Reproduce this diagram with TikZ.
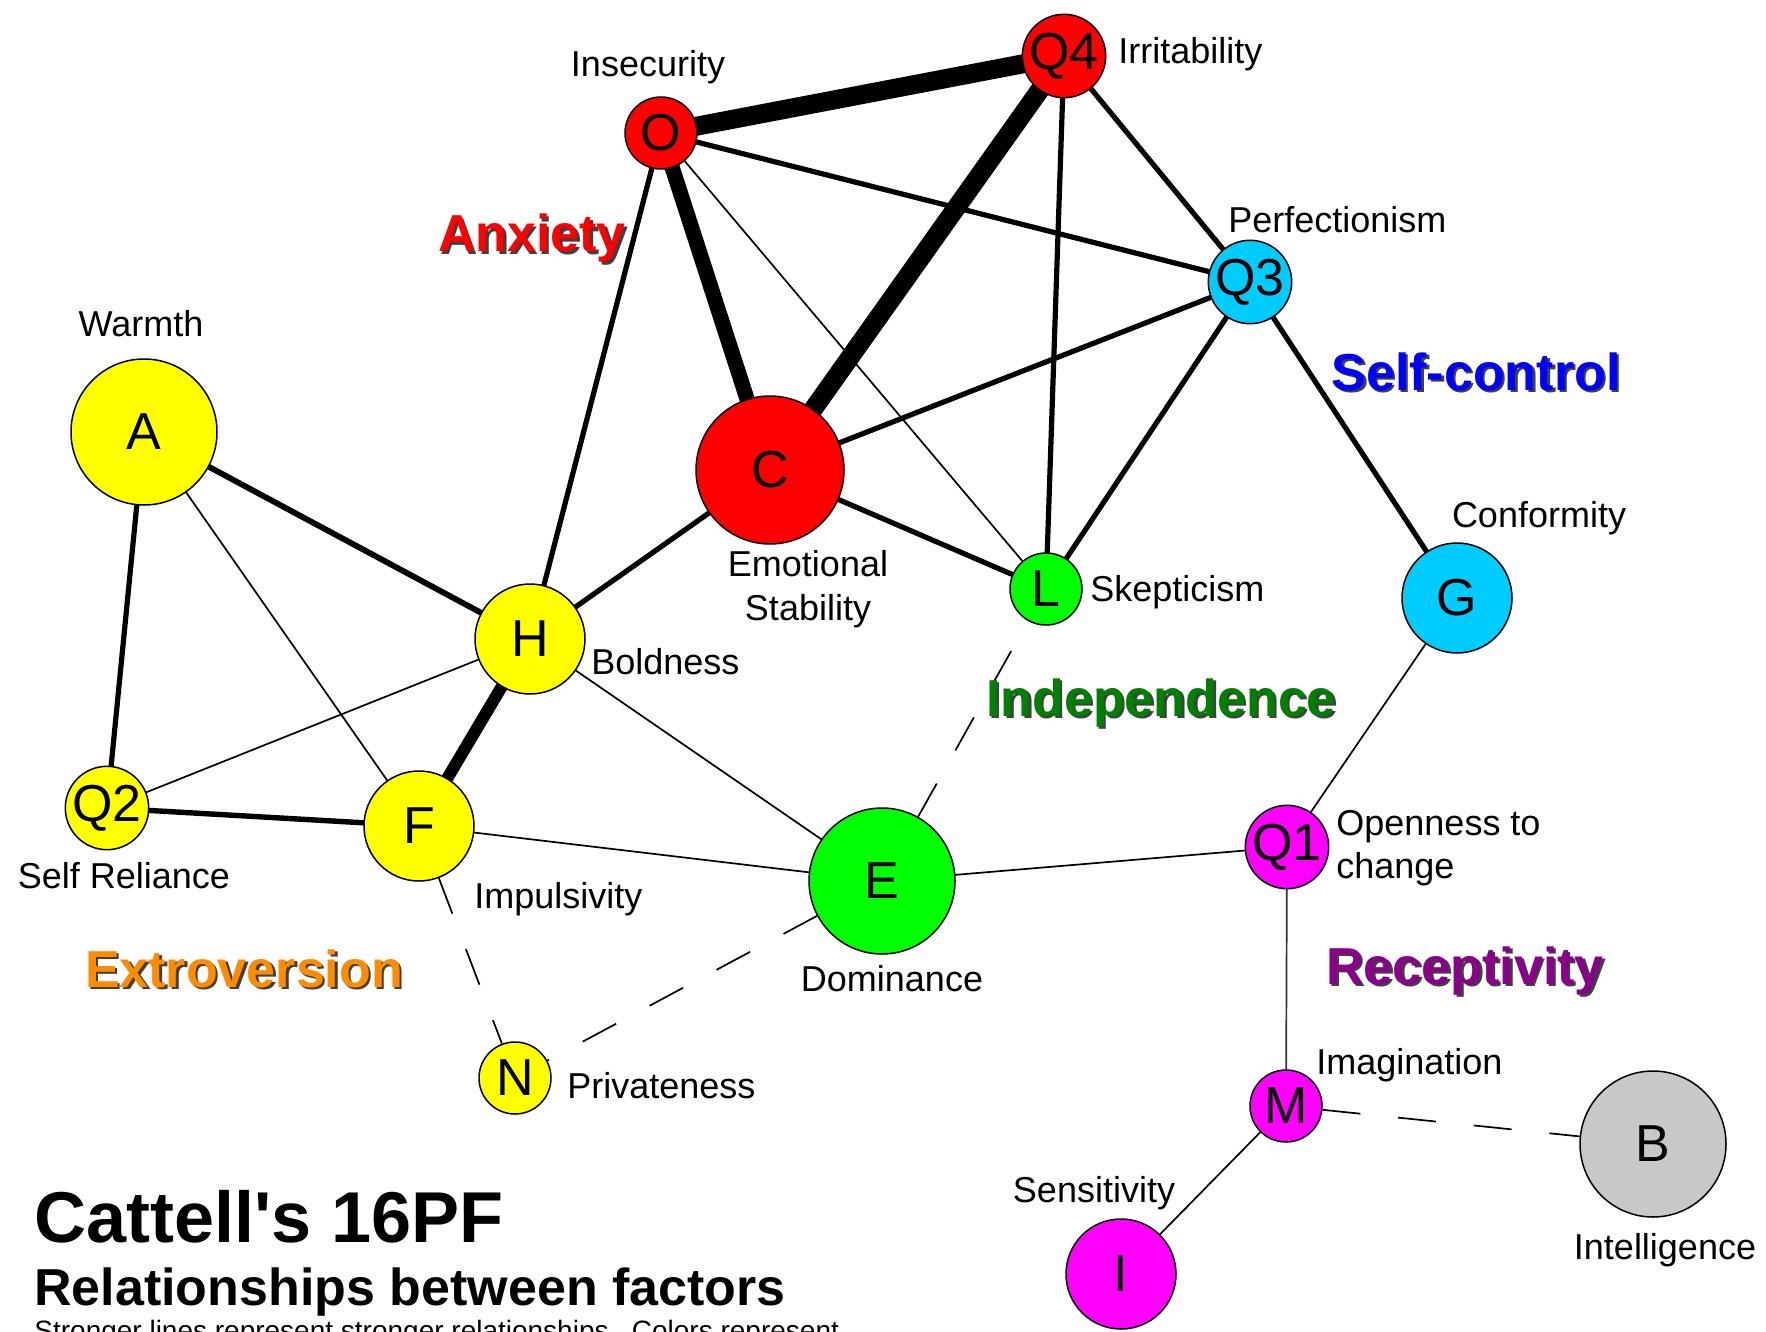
\documentclass[tikz,border=0pt]{standalone}
\usepackage{fontspec}
\setmainfont{Liberation Sans}
\newfontfamily\plainfont{Liberation Sans}
\pgfdeclarelayer{paper}
\pgfdeclarelayer{bg}
\pgfsetlayers{paper,bg,main}
\definecolor{nred}{RGB}{255,0,0}
\definecolor{nyellow}{RGB}{255,255,0}
\definecolor{ncyan}{RGB}{0,204,255}
\definecolor{ngreen}{RGB}{0,255,0}
\definecolor{nmag}{RGB}{255,0,255}
\definecolor{ngray}{RGB}{200,200,200}
\definecolor{gorange}{RGB}{255,140,0}
\definecolor{ggreen}{RGB}{0,128,0}
\definecolor{gpurple}{RGB}{139,0,139}
\definecolor{gblue}{RGB}{0,0,255}
\tikzset{
  fac/.style={circle, draw=black, line width=0.75pt, inner sep=0pt, font=\fontsize{26}{28}\selectfont},
  fsmall/.style={fac, minimum size=36pt},
  fmed/.style={fac, minimum size=55pt},
  flarge/.style={fac, minimum size=73pt},
  lbl/.style={font=\fontsize{18}{20}\selectfont, inner sep=0pt},
  grp/.style={font=\bfseries\fontsize{26}{28}\selectfont, inner sep=0pt, anchor=base},
  shd/.style={grp, text=black!75},
  eA/.style={line width=9.5pt},
  eB/.style={line width=7.6pt},
  eC/.style={line width=6pt},
  emed/.style={line width=2.6pt},
  ethin/.style={line width=0.85pt},
  edash/.style={line width=0.85pt, dash pattern=on 19pt off 19pt},
}
\begin{document}
\begin{tikzpicture}[x=0.5pt,y=-0.5pt]
\useasboundingbox (0,0) rectangle (1766,1332);
\clip (0,0) rectangle (1766,1332);
\begin{pgfonlayer}{paper}
\fill[white] (0,0) rectangle (1766,1332);
\end{pgfonlayer}

% factor nodes
\node[fsmall, fill=nred] (O) at (661,133) {O};
\node[fsmall, fill=nred] (Q4) at (1064,56) {Q4};
\node[fsmall, fill=ncyan] (Q3) at (1250,282) {Q3};
\node[flarge, fill=nyellow] (A) at (144,432) {A};
\node[flarge, minimum size=74pt, fill=nred] (C) at (770,470) {C};
\node[fmed, fill=nyellow] (H) at (530,639) {H};
\node[fsmall, fill=ngreen] (L) at (1046,589) {L};
\node[fmed, fill=ncyan] (G) at (1457,598) {G};
\node[fsmall, fill=nyellow] (Q2) at (107,808) {Q2};
\node[fmed, fill=nyellow] (F) at (419,826) {F};
\node[flarge, fill=ngreen] (E) at (882,881) {E};
\node[fsmall, fill=nmag] (Q1) at (1287,847) {Q1};
\node[fsmall, fill=nyellow] (N) at (515,1078) {N};
\node[fsmall, fill=nmag] (M) at (1286,1106) {M};
\node[flarge, fill=ngray] (B) at (1653,1144) {B};
\node[fmed, fill=nmag] (I) at (1121,1274) {I};

% edges
\begin{pgfonlayer}{bg}
\draw[eA] (O.center) -- (Q4.center);
\draw[eB] (O.center) -- (C.center);
\draw[eA] (Q4.center) -- (C.center);
\draw[eC] (H.center) -- (F.center);
\draw[ethin] (O.center) -- (L.center);
\draw[emed] (O.center) -- (Q3.center);
\draw[emed] (O.center) -- (H.center);
\draw[emed] (Q4.center) -- (L.center);
\draw[emed] (Q4.center) -- (Q3.center);
\draw[emed] (Q3.center) -- (C.center);
\draw[emed] (Q3.center) -- (L.center);
\draw[emed] (Q3.center) -- (G.center);
\draw[emed] (C.center) -- (L.center);
\draw[emed] (C.center) -- (H.center);
\draw[line width=2.9pt] (A.center) -- (H.center);
\draw[ethin] (A.center) -- (F.center);
\draw[emed] (A.center) -- (Q2.center);
\draw[ethin] (H.center) -- (Q2.center);
\draw[ethin] (H.center) -- (E.center);
\draw[line width=2.7pt] (Q2.center) -- (F.center);
\draw[ethin] (F.center) -- (E.center);
\draw[edash] (F) -- (N);
\draw[edash] (E) -- (L);
\draw[ethin] (E.center) -- (Q1.center);
\draw[edash] (E) -- (N);
\draw[ethin] (Q1.center) -- (G.center);
\draw[ethin, draw=black!80] (Q1.center) -- (M.center);
\draw[edash] (M) -- (B);
\draw[ethin] (M.center) -- (I.center);
\end{pgfonlayer}

% factor labels
\node[lbl, anchor=base] (lO) at (648,77) {Insecurity};
\node[lbl, anchor=base west] (lQ4) at (1118,64) {Irritability};
\node[lbl, anchor=base west] (lQ3) at (1228,233) {Perfectionism};
\node[lbl, anchor=base] (lA) at (141,336) {Warmth};
\node[lbl, anchor=base] (lC1) at (808,576) {Emotional};
\node[lbl, anchor=base] (lC2) at (808,620) {Stability};
\node[lbl, anchor=base west] (lL) at (1090,601) {Skepticism};
\node[lbl, anchor=base] (lG) at (1539,527) {Conformity};
\node[lbl, anchor=base west] (lH) at (591,674) {Boldness};
\node[lbl, anchor=base] (lQ2) at (124,888) {Self Reliance};
\node[lbl, anchor=base west] (lF) at (474,908) {Impulsivity};
\node[lbl, anchor=base] (lE) at (892,991) {Dominance};
\node[lbl, anchor=base west] (lQ1a) at (1336,835) {Openness to};
\node[lbl, anchor=base west] (lQ1b) at (1336,878) {change};
\node[lbl, anchor=base west] (lN) at (567,1098) {Privateness};
\node[lbl, anchor=base west] (lM) at (1316,1074) {Imagination};
\node[lbl, anchor=base] (lB) at (1665,1259) {Intelligence};
\node[lbl, anchor=base] (lI) at (1094,1202) {Sensitivity};

% group labels (shadow + text)
\node[shd] (gAs) at (534.5,254.5) {Anxiety};
\node[grp, text=nred] (gA) at (532,252) {Anxiety};
\node[shd] (gSs) at (1478.5,392.5) {Self-control};
\node[grp, text=gblue] (gS) at (1476,390) {Self-control};
\node[shd] (gIs) at (1163.5,718.5) {Independence};
\node[grp, text=ggreen] (gI) at (1161,716) {Independence};
\node[shd] (gEs) at (246.5,989.5) {Extroversion};
\node[grp, text=gorange] (gE) at (244,987) {Extroversion};
\node[shd] (gRs) at (1467.5,986.5) {Receptivity};
\node[grp, text=gpurple] (gR) at (1465,984) {Receptivity};

% title
\node[inner sep=0pt, anchor=base west, font=\plainfont\bfseries\fontsize{36}{40}\selectfont] (t1) at (34,1242) {Cattell's 16PF};
\node[inner sep=0pt, anchor=base west, font=\bfseries\fontsize{26}{30}\selectfont] (t2) at (34,1305) {Relationships between factors};
\node[inner sep=0pt, anchor=base west, font=\fontsize{14}{16}\selectfont] (t3) at (34,1340) {Stronger lines represent stronger relationships.\ \ Colors represent};
\end{tikzpicture}
\end{document}
